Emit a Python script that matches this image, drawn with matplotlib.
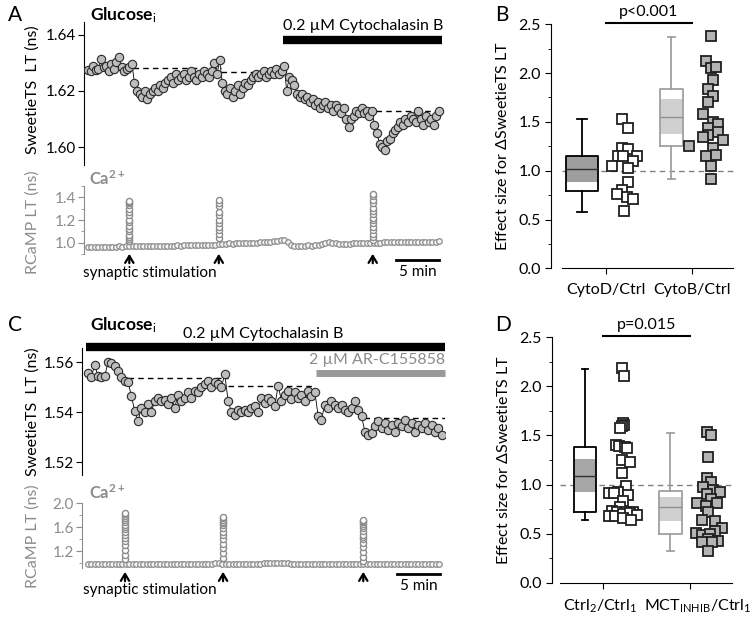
import numpy as np
import matplotlib
matplotlib.use('Agg')
import matplotlib.pyplot as plt
import matplotlib.transforms as mtransforms
from matplotlib.ticker import MultipleLocator, FormatStrFormatter

plt.rcParams['font.family'] = ['Lato', 'DejaVu Sans']
plt.rcParams['mathtext.fontset'] = 'custom'
plt.rcParams['mathtext.rm'] = 'Lato'
plt.rcParams['mathtext.it'] = 'Lato:italic'
plt.rcParams['mathtext.bf'] = 'Lato:bold'

# ---------------- data ----------------
# panel A, SweetieTS lifetime (ns), sampled every 0.3 min
sweetie_a = [1.6275, 1.627, 1.629, 1.6275, 1.628, 1.6315, 1.6285, 1.629, 1.627, 1.6295, 1.628, 1.6305,
             1.632, 1.6285, 1.627, 1.628, 1.6285, 1.6295,
             1.623, 1.620, 1.619, 1.618, 1.620, 1.617, 1.619, 1.620, 1.621, 1.620, 1.622, 1.621, 1.623,
             1.624, 1.625, 1.623, 1.626, 1.624, 1.625, 1.626, 1.624, 1.625, 1.627, 1.625, 1.624, 1.626,
             1.625, 1.627, 1.626, 1.625, 1.627, 1.630, 1.626,
             1.631, 1.623, 1.620, 1.619, 1.621, 1.618, 1.620, 1.622, 1.619, 1.621, 1.623, 1.622, 1.624,
             1.625, 1.626, 1.625, 1.626, 1.627, 1.625, 1.626, 1.627, 1.626, 1.628, 1.626, 1.627, 1.629,
             1.620, 1.625, 1.624, 1.622, 1.619, 1.618, 1.619, 1.617, 1.618, 1.616, 1.617, 1.615, 1.616,
             1.614, 1.615, 1.616, 1.614, 1.615, 1.613, 1.615, 1.614, 1.612, 1.614, 1.610, 1.607, 1.610,
             1.611, 1.613, 1.612, 1.614, 1.612, 1.613, 1.611, 1.613,
             1.608, 1.605, 1.601, 1.600, 1.599, 1.602, 1.603, 1.605, 1.606, 1.607, 1.609, 1.608, 1.610,
             1.609, 1.611, 1.610, 1.609, 1.613, 1.610, 1.608, 1.611, 1.609, 1.610, 1.608, 1.611, 1.613]
dt_sweetie_a = 0.3

# panel A, RCaMP lifetime (ns), sampled every 0.4 min
rcamp_a = [0.962, 0.963, 0.961, 0.964, 0.962, 0.963, 0.965, 0.963, 0.964, 0.966, 0.965, 0.967,
           0.968, 0.967, 0.969, 0.968, 0.970, 0.969, 0.971, 0.970, 0.972, 0.971, 0.973, 0.972, 0.974,
           0.973, 0.975, 0.974, 0.976, 0.975, 0.977, 0.976, 0.978, 0.977, 0.979, 0.978, 0.980, 0.979,
           0.985, 0.988, 0.990, 0.992, 0.991, 0.993, 0.995, 0.994, 0.996, 0.998, 0.997, 1.000, 1.002,
           1.004, 1.003, 1.006, 1.010, 1.015, 1.022, 1.020, 1.008,
           0.978, 0.972, 0.970, 0.974, 0.971, 0.975, 0.973, 0.976, 0.980,
           0.990, 0.996, 1.002, 0.998, 0.994, 0.990, 0.988, 0.986,
           0.990, 0.992, 0.994, 0.993, 0.995, 0.996, 0.994,
           0.998, 1.000, 0.999, 1.002, 1.001, 1.003, 1.004, 1.002, 1.005, 1.006, 1.004, 1.007, 1.005,
           1.008, 1.006, 1.007, 1.009, 1.006, 1.008, 1.010]
dt_rcamp = 0.4
stim_a = [4.8, 15.2, 33.1]
spikes_a = [[1.01, 1.03, 1.05, 1.07, 1.10, 1.12, 1.15, 1.18, 1.20, 1.24, 1.27, 1.30, 1.33, 1.35, 1.36, 1.37],
            [1.04, 1.08, 1.115, 1.14, 1.17, 1.20, 1.245, 1.275, 1.32, 1.35, 1.377],
            [1.02, 1.05, 1.08, 1.11, 1.14, 1.17, 1.20, 1.22, 1.25, 1.28, 1.31, 1.35, 1.38, 1.41, 1.43]]
plateau_a = [(5.2, 15.4, 1.6282), (15.4, 23.3, 1.6268), (33.5, 40.8, 1.6129)]
drug_a = (22.7, 41.2)

# panel C, SweetieTS lifetime (ns), 107 samples over 41.1 min
sweetie_c = [1.5555, 1.554, 1.5588, 1.5543, 1.554, 1.5543, 1.560, 1.5595, 1.5583, 1.5563, 1.5539, 1.5524, 1.552,
             1.5465, 1.5404, 1.5363, 1.5418, 1.540, 1.5431, 1.540, 1.5445, 1.5458, 1.5445, 1.545, 1.5431,
             1.5458, 1.5418, 1.547, 1.5445, 1.5458, 1.548, 1.5458, 1.5486, 1.548, 1.550, 1.5513, 1.5526,
             1.550, 1.552, 1.5513, 1.550, 1.5551,
             1.5445, 1.540, 1.5388, 1.541, 1.540, 1.541, 1.540, 1.5418, 1.5424, 1.540, 1.5458, 1.5438,
             1.5458, 1.5445, 1.5424, 1.5506, 1.5445, 1.547, 1.5486, 1.5451, 1.548, 1.5458, 1.547, 1.5445,
             1.5486, 1.5465, 1.548,
             1.5384, 1.537, 1.543, 1.5418, 1.5445, 1.543, 1.5418, 1.543, 1.541, 1.540, 1.5418, 1.5445,
             1.541, 1.5384,
             1.5322, 1.531, 1.5316, 1.5343, 1.5363, 1.5337, 1.5357, 1.533, 1.535, 1.5322, 1.5357, 1.5343,
             1.537, 1.5337, 1.5357, 1.5322, 1.535, 1.5337, 1.5357, 1.533, 1.535, 1.5322, 1.5337, 1.531]
duration_c = 41.1

rcamp_c = [0.990, 0.990, 0.989, 0.990, 0.991, 0.990, 0.989, 0.990, 0.988, 0.987, 0.989, 0.990,
           0.992, 0.990, 0.988, 0.991, 0.989, 0.987, 0.990, 0.992, 0.989, 0.988, 0.990, 0.991, 0.989,
           0.988, 0.990, 0.992, 0.991, 0.989, 0.987, 0.990, 0.991, 0.989, 0.988, 0.990, 0.992, 0.993,
           0.995, 0.992, 0.990, 0.991, 0.989, 0.988, 0.990, 0.991, 0.989, 0.990, 0.992, 0.991, 0.990,
           0.993, 0.995, 0.994, 0.996, 0.998, 0.997, 0.995, 0.993, 0.992, 0.990, 0.991, 0.989, 0.990,
           0.992, 0.991, 0.989, 0.990, 0.988, 0.989, 0.991, 0.990, 0.988, 0.987, 0.989, 0.990, 0.988,
           0.987, 0.989, 0.988, 0.990, 0.989, 0.988, 0.986, 0.988, 0.987, 0.989, 0.988, 0.986, 0.987,
           0.988, 0.986, 0.987, 0.985, 0.986, 0.988, 0.986, 0.985, 0.987, 0.986, 0.985, 0.986, 0.985]
stim_c = [4.3, 15.7, 32.0]
spikes_c = [[1.06, 1.14, 1.22, 1.30, 1.36, 1.42, 1.47, 1.52, 1.56, 1.60, 1.64, 1.68, 1.72, 1.75, 1.78, 1.81, 1.83],
            [1.08, 1.16, 1.25, 1.32, 1.40, 1.46, 1.52, 1.58, 1.63, 1.66, 1.69, 1.72, 1.75, 1.77],
            [1.04, 1.10, 1.18, 1.26, 1.33, 1.40, 1.44, 1.47, 1.53, 1.58, 1.62, 1.65, 1.68, 1.70, 1.72]]
plateau_c = [(4.65, 16.3, 1.5535), (16.3, 26.3, 1.5506), (32.1, 41.5, 1.5376)]
drug_c = (-0.25, 41.5)
inhib_c = (26.5, 41.5)

# panel B, effect sizes
cytod_x = [0.19, 0.252, 0.19, 0.252, 0.143, 0.20, 0.364, 0.31, 0.073, 0.252, 0.252, 0.19, 0.13, 0.24, 0.31, 0.213]
cytod_y = [1.534, 1.438, 1.233, 1.223, 1.147, 1.154, 1.154, 1.096, 1.044, 1.027, 0.880, 0.805, 0.761, 0.730, 0.709, 0.589]
cytob_x = [0.217, 0.163, 0.217, 0.279, 0.24, 0.19, 0.248, 0.19, 0.13, 0.24, 0.306, 0.19, 0.306, 0.19, 0.13,
           0.364, -0.04, 0.248, 0.163, 0.279, 0.217, 0.217]
cytob_y = [2.379, 2.129, 2.054, 2.061, 1.934, 1.832, 1.770, 1.702, 1.582, 1.496, 1.479, 1.438, 1.394, 1.370,
           1.346, 1.318, 1.250, 1.233, 1.147, 1.164, 1.044, 0.918]
box_b = [dict(med=1.015, q1=0.795, q3=1.154, whislo=0.58, whishi=1.534),
         dict(med=1.548, q1=1.25, q3=1.832, whislo=0.918, whishi=2.37)]
band_b = [(0.88, 1.154), (1.376, 1.73)]

# panel D, effect sizes
ctrl_x = [0.212, 0.238, 0.231, 0.242, 0.219, 0.192, 0.142, 0.185, 0.25, 0.277, 0.212, 0.308, 0.219, 0.258,
          0.173, 0.065, 0.123, 0.288, 0.223, 0.192, 0.096, 0.154, 0.258, 0.346, 0.069, 0.135, 0.231, 0.308,
          0.385, 0.231, 0.315]
ctrl_y = [2.184, 2.109, 1.631, 1.604, 1.594, 1.580, 1.399, 1.389, 1.382, 1.375, 1.253, 1.229, 1.116, 0.990,
          0.922, 0.915, 0.911, 0.894, 0.829, 0.768, 0.734, 0.717, 0.724, 0.724, 0.683, 0.683, 0.700, 0.706,
          0.693, 0.659, 0.638]
mct_x = [0.192, 0.238, 0.212, 0.192, 0.238, 0.154, 0.269, 0.346, 0.192, 0.238, 0.085, 0.181, 0.308, 0.212,
         0.142, 0.288, 0.365, 0.288, 0.069, 0.135, 0.231, 0.212, 0.327, 0.135, 0.258, 0.212]
mct_y = [1.536, 1.509, 1.280, 1.065, 1.024, 0.980, 0.949, 0.922, 0.904, 0.853, 0.809, 0.785, 0.809, 0.717,
         0.638, 0.625, 0.556, 0.529, 0.502, 0.485, 0.495, 0.444, 0.427, 0.410, 0.416, 0.324]
box_d = [dict(med=1.092, q1=0.717, q3=1.382, whislo=0.638, whishi=2.178),
         dict(med=0.768, q1=0.50, q3=0.939, whislo=0.324, whishi=1.525)]
band_d = [(0.92, 1.263), (0.631, 0.877)]

# ---------------- layout ----------------
W, H = 754, 620
fig = plt.figure(figsize=(W / 100, H / 100), dpi=100)


def rect(l, t, r, b):
    return [l / W, 1 - b / H, (r - l) / W, (b - t) / H]


def fy(py):
    return 1 - py / H


GREY = '#8c8c8c'
FS = 10.5


def trace_axis(ax, color='k'):
    for s in ['top', 'right', 'bottom']:
        ax.spines[s].set_visible(False)
    ax.spines['left'].set_color(color)
    ax.set_xticks([])
    ax.tick_params(axis='y', which='both', direction='out', colors=color, labelsize=FS + 0.5, pad=2)
    ax.tick_params(axis='y', which='major', length=4)
    ax.tick_params(axis='y', which='minor', length=2.5)
    ax.patch.set_visible(False)


def sweetie_plot(ax, t, v):
    ax.plot(t, v, '-', color='k', lw=0.6, zorder=2)
    ax.plot(t, v, 'o', ms=6.0, mfc='#bdbdbd', mec='#2a2a2a', mew=0.8, zorder=3)


def rcamp_plot(ax, t, v, stims, spikes):
    ax.plot(t, v, 'o', ms=4.0, mfc='#f4f4f4', mec=GREY, mew=0.9, zorder=2)
    for s, col in zip(stims, spikes):
        ax.plot([s] * len(col), col, 'o', ms=4.4, mfc='white', mec=GREY, mew=1.0, zorder=3)


def stim_marks(ax, stims, y_tip, y_tail, y_text, bar_start, bar_y, bar_text_y):
    tr = mtransforms.blended_transform_factory(ax.transData, fig.transFigure)
    for s in stims:
        ax.annotate('', xy=(s, fy(y_tip)), xytext=(s, fy(y_tail)), xycoords=tr, textcoords=tr,
                    arrowprops=dict(arrowstyle='->,head_length=0.5,head_width=0.3', lw=1.6, color='k'),
                    annotation_clip=False)
    fig.text(83 / W, fy(y_text), 'synaptic stimulation', fontsize=FS + 0.5, ha='left', va='center')
    ax.plot([bar_start, bar_start + 5], [fy(bar_y)] * 2, color='k', lw=2, transform=tr, clip_on=False)
    ax.text(bar_start + 2.5, fy(bar_text_y), '5 min', transform=tr, ha='center', va='center', fontsize=FS + 0.5)


# ---------- panel A ----------
axa = fig.add_axes(rect(84, 22, 445, 165))
t_a = np.arange(len(sweetie_a)) * dt_sweetie_a
sweetie_plot(axa, t_a, sweetie_a)
for t0, t1, lev in plateau_a:
    axa.plot([t0, t1], [lev, lev], '--', color='k', lw=1, dashes=(4, 3), zorder=1)
axa.set_xlim(-0.47, 41.5)
axa.set_ylim(1.5936, 1.6446)
axa.set_yticks([1.60, 1.62, 1.64])
axa.yaxis.set_major_formatter(FormatStrFormatter('%.2f'))
trace_axis(axa)
tra = mtransforms.blended_transform_factory(axa.transData, fig.transFigure)
axa.plot(drug_a, [fy(40)] * 2, color='k', lw=6, transform=tra, clip_on=False, solid_capstyle='butt')
axa.text(sum(drug_a) / 2, fy(26), '0.2 µM Cytochalasin B', transform=tra, ha='center', va='center', fontsize=FS + 1)

axar = fig.add_axes(rect(84, 186, 445, 254))
t_ra = np.arange(len(rcamp_a)) * dt_rcamp
rcamp_plot(axar, t_ra, rcamp_a, stim_a, spikes_a)
axar.set_xlim(-0.47, 41.5)
axar.set_ylim(0.899, 1.501)
axar.set_yticks([1.0, 1.2, 1.4])
axar.yaxis.set_minor_locator(MultipleLocator(0.1))
axar.yaxis.set_major_formatter(FormatStrFormatter('%.1f'))
trace_axis(axar, GREY)
stim_marks(axar, stim_a, 251, 266, 273, 35.8, 260, 272)

fig.text(33 / W, fy(90), 'SweetieTS  LT (ns)', rotation=90, ha='center', va='center', fontsize=FS + 1)
fig.text(33 / W, fy(222), 'RCaMP LT (ns)', rotation=90, ha='center', va='center', fontsize=FS + 1, color=GREY)
fig.text(90 / W, fy(15), r'$\mathbf{Glucose}_{\mathrm{i}}$', ha='left', va='center', fontsize=12.5)
fig.text(89 / W, fy(179), r'$\mathbf{Ca}^{\mathbf{2+}}$', ha='left', va='center', fontsize=12, color=GREY)

# ---------- panel C ----------
axc = fig.add_axes(rect(82, 348, 445, 475))
t_c = np.linspace(0, duration_c, len(sweetie_c))
sweetie_plot(axc, t_c, sweetie_c)
for t0, t1, lev in plateau_c:
    axc.plot([t0, t1], [lev, lev], '--', color='k', lw=1, dashes=(4, 3), zorder=1)
axc.set_xlim(-0.7, 41.5)
axc.set_ylim(1.5148, 1.5656)
axc.set_yticks([1.52, 1.54, 1.56])
axc.yaxis.set_major_formatter(FormatStrFormatter('%.2f'))
trace_axis(axc)
trc = mtransforms.blended_transform_factory(axc.transData, fig.transFigure)
axc.plot(drug_c, [fy(347)] * 2, color='k', lw=6, transform=trc, clip_on=False, solid_capstyle='butt')
axc.text(20.4, fy(334), '0.2 µM Cytochalasin B', transform=trc, ha='center', va='center', fontsize=FS + 1)
axc.plot(inhib_c, [fy(373)] * 2, color='#999999', lw=5, transform=trc, clip_on=False, solid_capstyle='butt')
axc.text(inhib_c[1], fy(360), '2 µM AR-C155858', transform=trc, ha='right', va='center',
         fontsize=FS + 1, color=GREY)

axcr = fig.add_axes(rect(82, 503, 445, 568))
t_rc = np.arange(len(rcamp_c)) * dt_rcamp
rcamp_plot(axcr, t_rc, rcamp_c, stim_c, spikes_c)
axcr.set_xlim(-0.7, 41.5)
axcr.set_ylim(0.917, 2.001)
axcr.set_yticks([1.2, 1.6, 2.0])
axcr.set_yticks([1.0, 1.4, 1.8], minor=True)
axcr.yaxis.set_major_formatter(FormatStrFormatter('%.1f'))
trace_axis(axcr, GREY)
stim_marks(axcr, stim_c, 569, 584, 590, 35.9, 574, 586)

fig.text(33 / W, fy(412), 'SweetieTS  LT (ns)', rotation=90, ha='center', va='center', fontsize=FS + 1)
fig.text(33 / W, fy(536), 'RCaMP LT (ns)', rotation=90, ha='center', va='center', fontsize=FS + 1, color=GREY)
fig.text(90 / W, fy(325), r'$\mathbf{Glucose}_{\mathrm{i}}$', ha='left', va='center', fontsize=12.5)
fig.text(89 / W, fy(493), r'$\mathbf{Ca}^{\mathbf{2+}}$', ha='left', va='center', fontsize=12, color=GREY)


# ---------- panels B and D ----------
def effect_panel(ax, boxes, bands, box_pos, box_w, box_cols, band_cols, med_cols,
                 xs, ys, faces, labels, xlim, bounds, ptext):
    for s in ['top', 'right']:
        ax.spines[s].set_visible(False)
    ax.spines['bottom'].set_bounds(*bounds)
    ax.set_xlim(*xlim)
    ax.set_ylim(0, 2.5)
    ax.set_yticks([0, 0.5, 1.0, 1.5, 2.0, 2.5])
    ax.yaxis.set_minor_locator(MultipleLocator(0.25))
    ax.yaxis.set_major_formatter(FormatStrFormatter('%.1f'))
    ax.tick_params(which='both', direction='out', labelsize=FS + 1, pad=3)
    ax.tick_params(which='major', length=4.5)
    ax.tick_params(which='minor', length=2.5)
    ax.tick_params(axis='x', pad=6)
    ax.plot(bounds, [1.0, 1.0], '--', color='#808080', lw=1, dashes=(4, 3), zorder=1)
    for st, (lo, hi), p, w, bc, fc, mc in zip(boxes, bands, box_pos, box_w, box_cols, band_cols, med_cols):
        ax.bar(p, hi - lo, bottom=lo, width=w, color=fc, zorder=2)
        ax.bxp([dict(st, fliers=[])], positions=[p], widths=[w], showfliers=False, capwidths=[w * 0.3],
               boxprops=dict(color=bc, lw=1.3), whiskerprops=dict(color=bc, lw=1.3),
               capprops=dict(color=bc, lw=1.3), medianprops=dict(color=mc, lw=1.0), zorder=3)
    for k, (ox, yv, fc) in enumerate(zip(xs, ys, faces)):
        ax.plot(np.add(k + 1, ox), yv, 's', ms=6.6, mfc=fc, mec='#202020', mew=1.3, ls='none', zorder=4)
    ax.set_xticks([1, 2])
    ax.set_xticklabels(labels)
    ax.plot([1, 2], [2.51, 2.51], color='k', lw=1.5, clip_on=False)
    ax.text(1.5, 2.55, ptext, ha='center', va='bottom', fontsize=FS + 1)
    ax.set_ylabel(r'Effect size for $\Delta$SweetieTS LT', fontsize=FS + 1, labelpad=6)
    ax.patch.set_visible(False)


axb = fig.add_axes(rect(551, 24.3, 740, 268.3))
effect_panel(axb, box_b, band_b, [0.72, 1.76], [0.37, 0.27], ['k', '#a0a0a0'], ['#9e9e9e', '#d0d0d0'],
             ['#303030', '#909090'], [cytod_x, cytob_x], [cytod_y, cytob_y], ['white', '#b4b4b4'],
             ['CytoD/Ctrl', 'CytoB/Ctrl'], (0.36, 2.558), (0.488, 2.477), 'p<0.001')

axd = fig.add_axes(rect(552, 337.3, 740, 582.7))
effect_panel(axd, box_d, band_d, [0.79, 1.775], [0.254, 0.258], ['k', '#a0a0a0'], ['#a6a6a6', '#d0d0d0'],
             ['#303030', '#909090'], [ctrl_x, mct_x], [ctrl_y, mct_y], ['white', '#b4b4b4'],
             [r'Ctrl$_2$/Ctrl$_1$', r'MCT$_{\mathregular{INHIB}}$/Ctrl$_1$'], (0.408, 2.577), (0.5, 2.49), 'p=0.015')
# nudge the long second label right so the two labels keep a gap, as in the figure
lab = axd.get_xticklabels()
lab[0].set_transform(lab[0].get_transform() + mtransforms.ScaledTranslation(-0.03, 0, fig.dpi_scale_trans))
lab[1].set_transform(lab[1].get_transform() + mtransforms.ScaledTranslation(0.08, 0, fig.dpi_scale_trans))

for x, y, s in [(8, 15, 'A'), (495, 15, 'B'), (8, 325, 'C'), (495, 325, 'D')]:
    fig.text(x / W, fy(y), s, fontsize=15, ha='left', va='center')

fig.savefig('out.png', dpi=100)
